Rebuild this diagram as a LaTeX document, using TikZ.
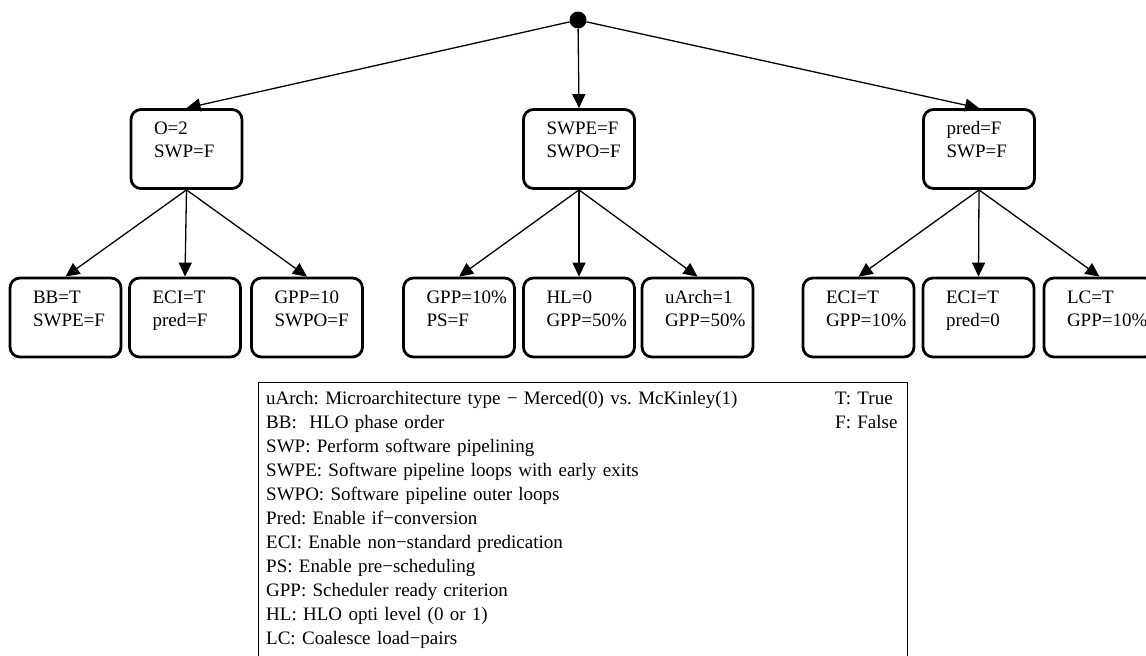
\documentclass[tikz,border=0pt]{standalone}
\usepackage{fontspec}
\setmainfont{Liberation Serif}
\usetikzlibrary{arrows.meta}

\newcommand{\optbox}[4]{%
  \node[optbox] (#1) at (#2) {\hspace*{23pt}#3\\\hspace*{23pt}#4};}

\begin{document}
\frenchspacing
\begin{tikzpicture}[x=1pt,y=-1pt,
    optbox/.style={draw,line width=2.8pt,rounded corners=10pt,inner sep=0pt,
      text width=111pt,align=left,text height=25pt,text depth=54pt,
      font=\fontsize{19}{23}\selectfont},
    edge/.style={draw,line width=1.3pt,-{Triangle[length=14pt,width=13pt]}},
    legtext/.style={inner sep=0pt,anchor=base west,align=left,
      font=\fontsize{19}{24}\selectfont}]
  \useasboundingbox (0,0) rectangle (1146,656);

  \node[circle,fill,inner sep=0pt,minimum size=17pt] (root) at (578,20) {};

  % first level
  \optbox{o2}{186.5,149}{O=2}{SWP=F}
  \optbox{swpe}{579,149}{SWPE=F}{SWPO=F}
  \optbox{pred}{979,149}{pred=F}{SWP=F}

  % second level
  \optbox{bb}{65.5,317.5}{BB=T}{SWPE=F}
  \optbox{eci}{185,317.5}{ECI=T}{pred=F}
  \optbox{gpp}{307,317.5}{GPP=10}{SWPO=F}
  \optbox{gppps}{459,317.5}{GPP=10\%}{PS=F}
  \optbox{hl}{579,317.5}{HL=0}{GPP=50\%}
  \optbox{uarch}{697.5,317.5}{uArch=1}{GPP=50\%}
  \optbox{ecigpp}{858.5,317.5}{ECI=T}{GPP=10\%}
  \optbox{ecipred}{978.5,317.5}{ECI=T}{pred=0}
  \optbox{lc}{1099.5,317.5}{LC=T}{GPP=10\%}

  \path[edge] (root) -- (o2.north);
  \path[edge] (root) -- (swpe.north);
  \path[edge] (root) -- (pred.north);

  \path[edge] (o2.south) -- (bb.north);
  \path[edge] (o2.south) -- (eci.north);
  \path[edge] (o2.south) -- (gpp.north);
  \path[edge] (swpe.south) -- (gppps.north);
  \path[edge] (swpe.south) -- (hl.north);
  \path[edge] (swpe.south) -- (uarch.north);
  \path[edge] (pred.south) -- (ecigpp.north);
  \path[edge] (pred.south) -- (ecipred.north);
  \path[edge] (pred.south) -- (lc.north);

  % legend
  \node[draw,line width=1.3pt,inner sep=0pt,anchor=north west,
    minimum width=649pt,minimum height=290pt] (legend) at (258,382) {};
  \node[legtext,text width=560pt] (keys) at ([xshift=8pt,yshift=-22pt]legend.north west)
    {uArch: Microarchitecture type − Merced(0) vs. McKinley(1)\\
     BB:\ \ HLO phase order\\
     SWP: Perform software pipelining\\
     SWPE: Software pipeline loops with early exits\\
     SWPO: Software pipeline outer loops\\
     Pred: Enable if−conversion\\
     ECI: Enable non−standard predication\\
     PS: Enable pre−scheduling\\
     GPP: Scheduler ready criterion\\
     HL: HLO opti level (0 or 1)\\
     LC: Coalesce load−pairs};
  \node[legtext,text width=70pt] (truth) at ([xshift=577pt,yshift=-22pt]legend.north west)
    {T: True\\F: False};
\end{tikzpicture}
\end{document}
